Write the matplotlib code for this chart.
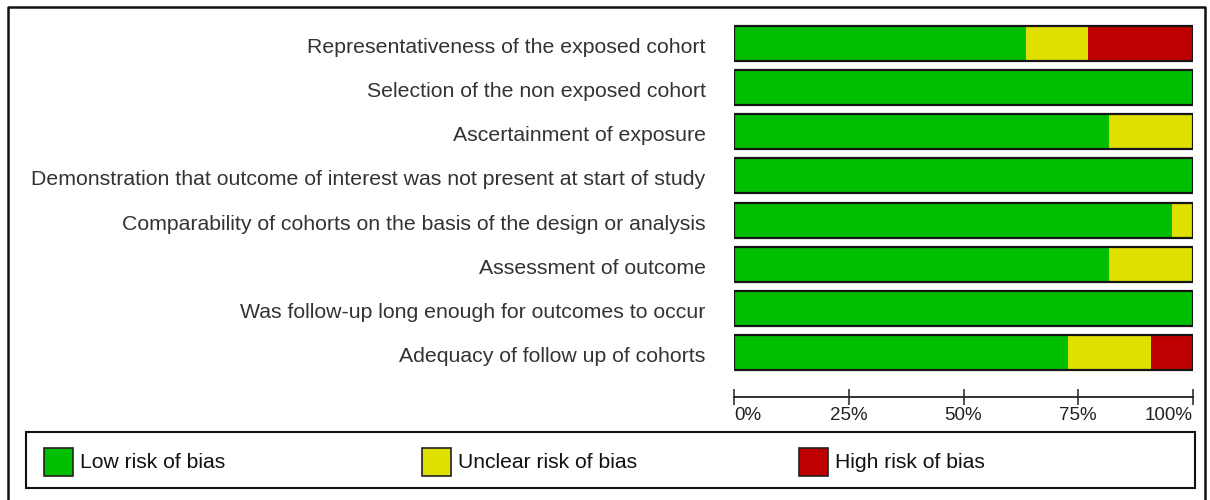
import matplotlib.pyplot as plt
from matplotlib.patches import Rectangle

plt.rcParams['font.family'] = ['Liberation Sans', 'DejaVu Sans']

domains = [
    'Representativeness of the exposed cohort',
    'Selection of the non exposed cohort',
    'Ascertainment of exposure',
    'Demonstration that outcome of interest was not present at start of study',
    'Comparability of cohorts on the basis of the design or analysis',
    'Assessment of outcome',
    'Was follow-up long enough for outcomes to occur',
    'Adequacy of follow up of cohorts',
]
# percent of studies per judgement
low = [63.6, 100.0, 81.8, 100.0, 95.5, 81.8, 100.0, 72.7]
unclear = [13.6, 0.0, 18.2, 0.0, 4.5, 18.2, 0.0, 18.2]
high = [22.8, 0.0, 0.0, 0.0, 0.0, 0.0, 0.0, 9.1]

categories = ['Low risk of bias', 'Unclear risk of bias', 'High risk of bias']
colors = ['#00bf00', '#e0e000', '#bf0000']
tick_vals = [0, 25, 50, 75, 100]
tick_labels = ['0%', '25%', '50%', '75%', '100%']

W, H = 1210, 500
fig = plt.figure(figsize=(W / 100, H / 100), dpi=100)


def fx(px):
    return px / W


def fy(py):
    return 1 - py / H


# bars
ax = fig.add_axes([fx(734), fy(375), fx(1193) - fx(734), fy(21) - fy(375)])
ypos = list(range(len(domains)))
left = [0.0] * len(domains)
for vals, c in zip([low, unclear, high], colors):
    ax.barh(ypos, vals, left=left, height=0.79, color=c, edgecolor='none')
    left = [l + v for l, v in zip(left, vals)]
ax.barh(ypos, left, height=0.79, fill=False, edgecolor='#151515', linewidth=1.6)
ax.set_xlim(0, 100)
ax.set_ylim(len(domains) - 0.5, -0.5)
ax.axis('off')

for y, name in zip(ypos, domains):
    ax.text(-0.062, y + 0.09, name, transform=ax.get_yaxis_transform(),
            ha='right', va='center', fontsize=15.3, color='#333333')

# percentage scale
sax = fig.add_axes([fx(734), fy(397), fx(1193) - fx(734), 0.001])
sax.set_xlim(0, 100)
for s in ['top', 'left', 'right']:
    sax.spines[s].set_visible(False)
sax.spines['bottom'].set_linewidth(1.3)
sax.spines['bottom'].set_color('#222222')
sax.set_yticks([])
sax.set_xticks(tick_vals)
sax.set_xticklabels(tick_labels, fontsize=13.5, color='#222222')
sax.tick_params(axis='x', direction='inout', length=11, width=1.1, color='#222222', pad=1.5)
tl = sax.get_xticklabels()
tl[0].set_ha('left')
tl[-1].set_ha('right')

# frame and legend
ov = fig.add_axes([0, 0, 1, 1])
ov.set_xlim(0, W)
ov.set_ylim(H, 0)
ov.axis('off')
ov.plot([8, 8, 1205, 1205], [505, 7, 7, 505], color='#111111', lw=1.8)
ov.add_patch(Rectangle((26, 432), 1169, 56, fill=False, edgecolor='#111111', lw=1.5))
for cat, c, x in zip(categories, colors, [44, 422, 799]):
    ov.add_patch(Rectangle((x, 448), 29, 28, facecolor=c, edgecolor='#222222', lw=1.2))
    ov.text(x + 36, 463, cat, ha='left', va='center', fontsize=15.2, color='#111111')

fig.savefig('out.png', dpi=100)
